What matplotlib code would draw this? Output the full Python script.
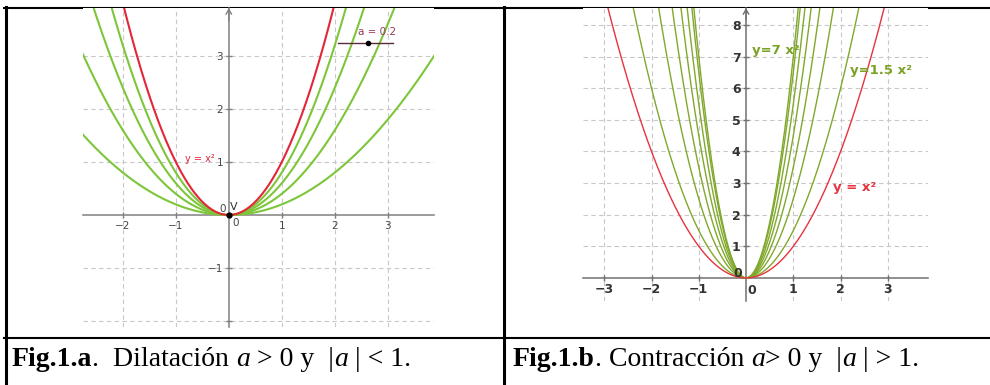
import numpy as np
import matplotlib
matplotlib.use("Agg")
import matplotlib.pyplot as plt

# ---------------- data ----------------
left_a = [0.2, 0.4, 0.6, 0.8]          # dilatation coefficients (green)
left_ref_a = 1.0                        # y = x^2 (red)
right_a = [1.5, 2.5, 3.5, 4.5, 5.5, 6.5, 7.0]  # contraction coefficients (green)
right_ref_a = 1.0
slider_value = 0.2
vertex = (0.0, 0.0)
left_xticks = [-2, -1, 1, 2, 3]
left_yticks = [-2, -1, 1, 2, 3]
left_ytick_labels = ["", "\u22121", "1", "2", "3"]
right_xticks = [-3, -2, -1, 1, 2, 3]
right_yticks = [1, 2, 3, 4, 5, 6, 7, 8]
# caption segments: (text, weight, style)
caption_left = [("Fig.1.a", "bold", "normal"), (".  Dilatación ", "normal", "normal"),
                ("a", "normal", "italic"), (" > 0 y  |", "normal", "normal"),
                ("a", "normal", "italic"), (" | < 1.", "normal", "normal")]
caption_right = [("Fig.1.b", "bold", "normal"), (". Contracción ", "normal", "normal"),
                 ("a", "normal", "italic"), ("> 0 y  |", "normal", "normal"),
                 ("a", "normal", "italic"), (" | > 1.", "normal", "normal")]

W, H = 990, 385
fig = plt.figure(figsize=(W / 100, H / 100), dpi=100)
renderer = fig.canvas.get_renderer()

# ---------------- table frame ----------------
bg = fig.add_axes([0, 0, 1, 1], zorder=0)
bg.set_xlim(0, W)
bg.set_ylim(H, 0)
bg.axis("off")
bg.plot([4, W], [8, 8], color="black", lw=1.5)
bg.plot([4, W], [338, 338], color="black", lw=1.5)
bg.plot([6, 6], [7, H], color="black", lw=2.2)
bg.plot([504, 504], [7, H], color="black", lw=2.2)


def draw_segments(x0, ybase, segments, size):
    x = x0
    for txt, weight, style in segments:
        t = bg.text(x, ybase, txt, family="Liberation Serif", fontsize=size,
                    fontweight=weight, fontstyle=style, va="baseline",
                    ha="left", color="black")
        bb = t.get_window_extent(renderer=renderer)
        x += bb.width  # pixels == data units in bg


draw_segments(12, 366, caption_left, 20)
draw_segments(513, 366, caption_right, 20)


def px_rect(x0, y0, x1, y1):
    return [x0 / W, 1 - y1 / H, (x1 - x0) / W, (y1 - y0) / H]


def gg_axes(rect, xlim, ylim, xticks, yticks, ylabels, lsize, lweight, lcolor, axcol):
    ax = fig.add_axes(rect, zorder=2)
    ax.set_facecolor("white")
    ax.set_xlim(*xlim)
    ax.set_ylim(*ylim)
    for s in ["top", "right"]:
        ax.spines[s].set_visible(False)
    ax.spines["left"].set_position(("data", 0))
    ax.spines["bottom"].set_position(("data", 0))
    for s in ["left", "bottom"]:
        ax.spines[s].set_color(axcol)
        ax.spines[s].set_linewidth(1.1)
        ax.spines[s].set_zorder(1.5)
    ax.set_xticks(xticks)
    ax.set_xticklabels([str(t).replace("-", "\u2212") for t in xticks])
    ax.set_yticks(yticks)
    ax.set_yticklabels(ylabels)
    ax.tick_params(direction="inout", length=4, width=1, color=axcol,
                   labelsize=lsize, labelcolor=lcolor, pad=2)
    for lab in ax.get_xticklabels() + ax.get_yticklabels():
        lab.set_fontweight(lweight)
    ax.grid(True, color="#c8c8c8", lw=0.8, ls=(0, (4, 3)))
    ax.set_axisbelow(True)
    ax.annotate("", xy=(0, 1.0), xycoords=("data", "axes fraction"),
                xytext=(0, 0.96), textcoords=("data", "axes fraction"),
                arrowprops=dict(arrowstyle="->,head_length=0.35,head_width=0.2",
                                color=axcol, lw=1.0, shrinkA=0, shrinkB=0))
    return ax


# ---------------- left plot ----------------
axL = gg_axes(px_rect(83, 8, 434, 327), (-2.75, 3.87), (-2.11, 3.9),
              left_xticks, left_yticks, left_ytick_labels, 7.5, "normal",
              "#444444", "#808080")
xl = np.linspace(-2.75, 3.87, 600)
for a in left_a:
    axL.plot(xl, a * xl ** 2, color="#7dc63a", lw=1.5, zorder=3)
axL.plot(xl, left_ref_a * xl ** 2, color="#e3263a", lw=1.5, zorder=3)
axL.plot(*vertex, "o", color="black", ms=3.5, zorder=5)
axL.text(0.03, 0.05, "V", fontsize=8, color="#333333", ha="left", va="bottom")
axL.text(-0.06, 0.02, "0", fontsize=7.5, color="#444444", ha="right", va="bottom")
axL.text(0.12, -0.06, "0", fontsize=7.5, color="#444444", ha="center", va="top")
axL.text(-0.54, 1.06, "y = x\u00b2", fontsize=7, color="#e3263a", ha="center", va="center")
# slider
axL.plot([2.06, 3.09], [3.25, 3.25], color="#5a2a3a", lw=1.0, zorder=4)
axL.plot([2.06 + (3.09 - 2.06) * (slider_value / 0.36)], [3.25], "o",
         color="black", ms=3, zorder=5)
axL.text(2.79, 3.44, f"a = {slider_value}", fontsize=7.5, color="#9a3a5a",
         ha="center", va="center")

# ---------------- right plot ----------------
axR = gg_axes(px_rect(583, 8, 928, 301), (-3.45, 3.85), (-0.73, 8.54),
              right_xticks, right_yticks, [str(t) for t in right_yticks], 9,
              "bold", "#333333", "#707070")
xr = np.linspace(-3.45, 3.85, 800)
for a in right_a:
    axR.plot(xr, a * xr ** 2, color="#80a82c", lw=1.0, zorder=3)
axR.plot(xr, right_ref_a * xr ** 2, color="#e8323e", lw=1.0, zorder=3)
axR.text(0.13, -0.2, "0", fontsize=9, fontweight="bold", color="#333333",
         ha="center", va="top")
axR.text(-0.08, 0.15, "0", fontsize=9, fontweight="bold", color="#333333",
         ha="right", va="center")
axR.text(0.12, 7.2, "y=7 x\u00b2", fontsize=9.5, fontweight="bold",
         color="#7aa326", ha="left", va="center")
axR.text(2.2, 6.55, "y=1.5 x\u00b2", fontsize=9.5, fontweight="bold",
         color="#7aa326", ha="left", va="center")
axR.text(1.85, 2.85, "y = x\u00b2", fontsize=9.5, fontweight="bold",
         color="#e8323e", ha="left", va="center")

fig.savefig("out.png", dpi=100)
